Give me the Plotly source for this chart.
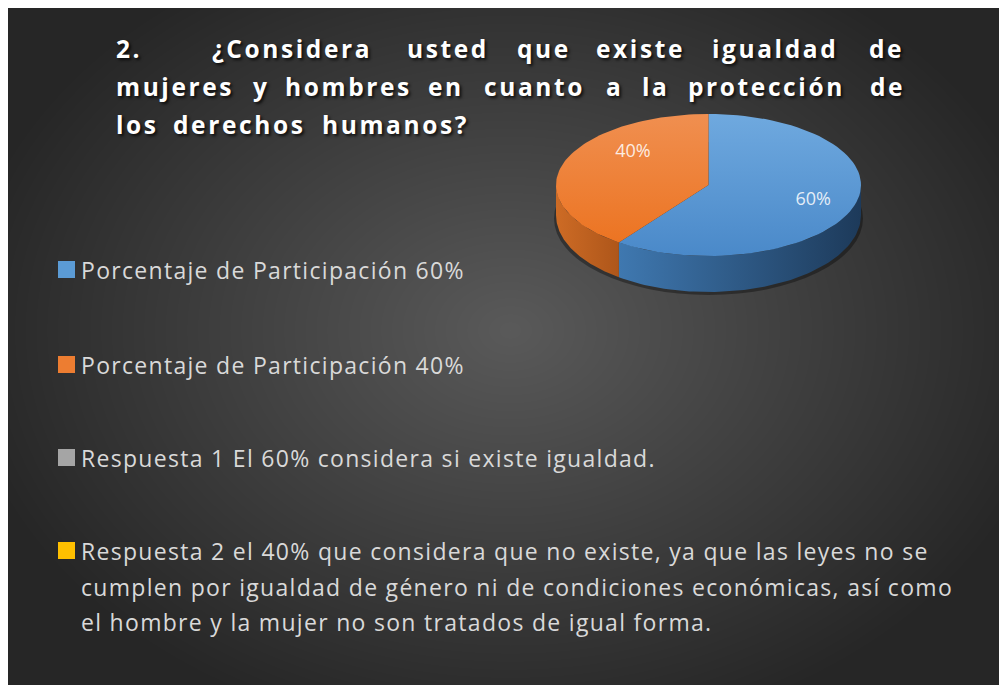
import base64
import math
import struct
import textwrap
import zlib

import numpy as np
import plotly.graph_objects as go

# ---------------- data ----------------
CATEGORIES = [
    "Porcentaje de Participación 60%",
    "Porcentaje de Participación 40%",
    "Respuesta 1 El 60% considera si existe igualdad.",
    "Respuesta 2 el 40% que considera que no existe, ya que las leyes no se "
    "cumplen por igualdad de género ni de condiciones económicas, así como "
    "el hombre y la mujer no son tratados de igual forma.",
]
VALUES = [60, 40, 0, 0]
COLORS = ["#5B9BD5", "#ED7D31", "#A5A5A5", "#FFC000"]

TITLE_LINES = [
    ["2.", "¿Considera", "usted", "que", "existe", "igualdad", "de"],
    ["mujeres", "y", "hombres", "en", "cuanto", "a", "la", "protección", "de"],
    ["los", "derechos", "humanos?"],
]

# ---------------- style / layout ----------------
# the page has an 8 px body margin; the axes are set so 1 unit = 1 page pixel
OFF = 8
W, H = 1007 - OFF, 685 - OFF
TITLE_WORD_X = [
    [117, 213, 408, 518, 597, 713, 870],
    [117, 254, 286, 429, 485, 607, 643, 689, 871],
    [117, 174, 323],
]
TITLE_BASELINES = [57, 95, 133]
TITLE_SIZE = 24.5
TITLE_SPACING = 2.6
TEXT_PAD = 3
FONT = "Open Sans"

# top face ellipse of the 3-D pie (axis units = page pixels)
CX, CY, RX, RY = 708.5, 185, 152.5, 71
DROP, RY_BOTTOM = 30, 77

TOP_GRAD = {
    0: ("#4A89C9", "#6FA9DF"),
    1: ("#EC7422", "#F08F50"),
}
SIDE_GRAD = {
    0: ("#3F78B0", "#1D3A5A"),
    1: ("#CD6B25", "#AE561A"),
}
LABEL_R = 0.68
LABEL_OFFSET = [(6, 1), (23, -18)]

LEG_X_BOX, LEG_BOX = 58, 17
LEG_X_TEXT = 82
LEG_BASELINES = [[278], [373], [466], [559, 595, 630]]
LEG_SIZE = 23
LEG_SPACING = 1.3


def png_data_uri(arr):
    h, w = arr.shape
    raw = b"".join(b"\x00" + arr[i].tobytes() for i in range(h))

    def chunk(t, d):
        return (struct.pack(">I", len(d)) + t + d
                + struct.pack(">I", zlib.crc32(t + d) & 0xFFFFFFFF))

    png = (b"\x89PNG\r\n\x1a\n"
           + chunk(b"IHDR", struct.pack(">IIBBBBB", w, h, 8, 0, 0, 0, 0))
           + chunk(b"IDAT", zlib.compress(raw, 9))
           + chunk(b"IEND", b""))
    return "data:image/png;base64," + base64.b64encode(png).decode()


# radial grey background (pixel grid in page coordinates OFF..)
yy, xx = np.mgrid[0:H, 0:W]
xx = xx + OFF
yy = yy + OFF
d = np.sqrt(((xx - 510) / 560.0) ** 2 + ((yy - 330) / 420.0) ** 2)
shade = 38 + 52 * np.clip(1 - d, 0, 1)
bg_uri = png_data_uri(shade.astype(np.uint8))


def arc(t0, t1, cy, ry, n=80):
    ts = np.linspace(math.radians(t0), math.radians(t1), n)
    return CX + RX * np.sin(ts), cy - ry * np.cos(ts)


fig = go.Figure()

total = sum(VALUES)
slices = []
start = 0.0
for i, v in enumerate(VALUES):
    if v <= 0:
        continue
    sweep = 360.0 * v / total
    slices.append((i, start, start + sweep, v))
    start += sweep

# side walls (front half only: 90..270 degrees)
for i, t0, t1, v in slices:
    a, b = max(t0, 90), min(t1, 270)
    if a >= b:
        continue
    tx, ty = arc(a, b, CY, RY)
    bx, by = arc(b, a, CY + DROP, RY_BOTTOM)
    c1, c2 = SIDE_GRAD[i]
    fig.add_trace(go.Scatter(
        x=np.concatenate([tx, bx, tx[:1]]), y=np.concatenate([ty, by, ty[:1]]),
        mode="lines", line=dict(width=0), fill="toself",
        fillgradient=dict(type="horizontal", colorscale=[[0, c1], [1, c2]]),
        hoverinfo="skip", showlegend=False))

# top faces
for i, t0, t1, v in slices:
    ax, ay = arc(t0, t1, CY, RY)
    c1, c2 = TOP_GRAD[i]
    fig.add_trace(go.Scatter(
        x=np.concatenate([[CX], ax, [CX]]), y=np.concatenate([[CY], ay, [CY]]),
        mode="lines", line=dict(width=0), fill="toself",
        fillgradient=dict(type="vertical", colorscale=[[0, c1], [1, c2]]),
        hoverinfo="skip", showlegend=False, name=CATEGORIES[i]))

# data labels
lx, ly, lt = [], [], []
for k, (i, t0, t1, v) in enumerate(slices):
    mid = math.radians((t0 + t1) / 2)
    lx.append(CX + LABEL_R * RX * math.sin(mid) + LABEL_OFFSET[k][0])
    ly.append(CY - LABEL_R * RY * math.cos(mid) + LABEL_OFFSET[k][1])
    lt.append(f"{100 * v / total:.0f}%")
fig.add_trace(go.Scatter(
    x=lx, y=ly, text=lt, mode="text", textposition="middle center",
    textfont=dict(family=FONT, size=18, color="rgba(255,255,255,0.85)"),
    hoverinfo="skip", showlegend=False))

shapes = []
# soft shadow beneath pie
shapes.append(dict(type="circle", xref="x", yref="y", layer="below",
                   x0=CX - RX - 2, x1=CX + RX + 2,
                   y0=CY + DROP - RY_BOTTOM + 4, y1=CY + DROP + RY_BOTTOM + 3,
                   fillcolor="rgba(0,0,0,0.35)", line=dict(width=0)))

annotations = []
# title (justified, word by word)
for words, xs, base in zip(TITLE_LINES, TITLE_WORD_X, TITLE_BASELINES):
    for w, x in zip(words, xs):
        annotations.append(dict(
            x=x - TEXT_PAD, y=base - 0.36 * TITLE_SIZE, xref="x", yref="y",
            text=f'<span style="letter-spacing:{TITLE_SPACING}px">{w}</span>',
            showarrow=False, xanchor="left", yanchor="middle",
            font=dict(family=FONT, size=TITLE_SIZE, color="#FFFFFF",
                      weight="bold", shadow="2px 2px 3px rgba(0,0,0,0.75)")))

# legend
for cat, col, bases in zip(CATEGORIES, COLORS, LEG_BASELINES):
    lines = textwrap.wrap(cat, width=70)
    shapes.append(dict(type="rect", xref="x", yref="y",
                       x0=LEG_X_BOX, x1=LEG_X_BOX + LEG_BOX,
                       y0=bases[0] - LEG_BOX, y1=bases[0],
                       fillcolor=col, line=dict(width=0)))
    for ln, b in zip(lines, bases):
        annotations.append(dict(
            x=LEG_X_TEXT - TEXT_PAD, y=b - 0.36 * LEG_SIZE, xref="x", yref="y",
            text=f'<span style="letter-spacing:{LEG_SPACING}px">{ln}</span>',
            showarrow=False, xanchor="left", yanchor="middle",
            font=dict(family=FONT, size=LEG_SIZE, color="#D9D9D9")))

fig.update_layout(
    width=W, height=H,
    margin=dict(l=0, r=0, t=0, b=0),
    paper_bgcolor="#FFFFFF", plot_bgcolor="rgba(0,0,0,0)",
    xaxis=dict(range=[OFF, OFF + W], visible=False, fixedrange=True),
    yaxis=dict(range=[OFF + H, OFF], visible=False, fixedrange=True),
    showlegend=False,
    shapes=shapes, annotations=annotations,
    images=[dict(source=bg_uri, xref="paper", yref="paper",
                 x=0, y=1, sizex=1, sizey=1,
                 xanchor="left", yanchor="top", sizing="stretch",
                 layer="below")],
)

fig.write_html("out.html")
